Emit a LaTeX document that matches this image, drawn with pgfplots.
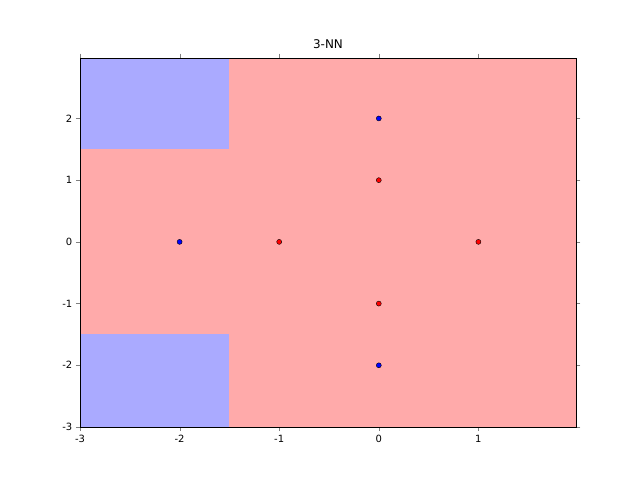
\documentclass[border=0pt]{standalone}
\usepackage{pgfplots}
\pgfplotsset{compat=1.18}
\usepackage{fontspec}
\setmainfont{DejaVu Sans}
\definecolor{rbg}{HTML}{FFAAAA}
\definecolor{bbg}{HTML}{AAAAFF}
\begin{document}
\begin{tikzpicture}[x=1bp,y=1bp]
\path (0,0) rectangle (640,480);
\begin{axis}[at={(80bp,53bp)},anchor=south west,scale only axis,
 width=496bp,height=369bp,xmin=-3,xmax=1.98,ymin=-3,ymax=2.98,
 xtick={-3,-2,-1,0,1},ytick={-3,-2,-1,0,1,2},
 tick align=outside,
 /pgf/number format/assume math mode=true,
 tick label style={font=\fontsize{10}{12}\selectfont},
 title={3-NN},title style={font=\fontsize{12}{14}\selectfont},
 axis on top]
\addplot[fill=rbg,draw=none] coordinates {(-3,-3)(1.98,-3)(1.98,2.98)(-3,2.98)} --cycle;
\addplot[fill=bbg,draw=none] coordinates {(-3,1.5)(-1.5,1.5)(-1.5,2.98)(-3,2.98)} --cycle;
\addplot[fill=bbg,draw=none] coordinates {(-3,-3)(-1.5,-3)(-1.5,-1.5)(-3,-1.5)} --cycle;
\addplot[only marks,mark=*,mark size=2.5bp,fill=blue,draw=black] coordinates {(-2,0)(0,2)(0,-2)};
\addplot[only marks,mark=*,mark size=2.5bp,fill=red,draw=black] coordinates {(-1,0)(0,1)(0,-1)(1,0)};
\end{axis}
\end{tikzpicture}
\end{document}
